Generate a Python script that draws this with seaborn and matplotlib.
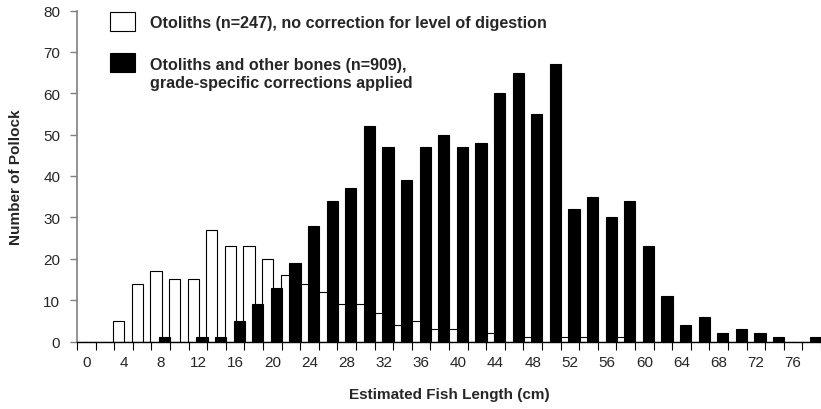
import numpy as np
import pandas as pd
import seaborn as sns
import matplotlib.pyplot as plt
from matplotlib.patches import Rectangle

# 2 cm length classes
lengths = list(range(0, 80, 2))
otoliths = [0, 0, 5, 14, 17, 15, 15, 27, 23, 23, 20, 16, 14, 12, 9, 9, 7, 4, 5, 3,
            3, 0, 2, 0, 1, 0, 1, 1, 0, 1, 0, 0, 0, 0, 0, 0, 0, 0, 0, 0]
all_bones = [0, 0, 0, 0, 1, 0, 1, 1, 5, 9, 13, 19, 28, 34, 37, 52, 47, 39, 47, 50,
             47, 48, 60, 65, 55, 67, 32, 35, 30, 34, 23, 11, 4, 6, 2, 3, 2, 1, 0, 1]
lab_oto = "Otoliths (n=247), no correction for level of digestion"
lab_all = "Otoliths and other bones (n=909),\ngrade-specific corrections applied"
tick_labels = [str(v) for v in range(0, 80, 4)]

df = pd.DataFrame({
    "length": lengths * 2,
    "count": otoliths + all_bones,
    "group": [lab_oto] * len(lengths) + [lab_all] * len(lengths),
})

sns.set_style("ticks")
plt.rcParams["font.family"] = ["Liberation Sans", "DejaVu Sans"]

W, H = 821, 410
fig = plt.figure(figsize=(W / 100, H / 100), dpi=100)
ax = fig.add_axes([77 / W, 67.5 / H, 744 / W, 331 / H])

sns.barplot(data=df, x="length", y="count", hue="group",
            hue_order=[lab_oto, lab_all], palette=["white", "black"],
            saturation=1, edgecolor="black", linewidth=0.8,
            width=1.0, dodge=True, legend=False, ax=ax)

# overlapping bars: white a bit left, black a bit right
for p in ax.containers[0]:
    p.set_x(p.get_x() - 0.05)
    p.set_width(0.6)
for p in ax.containers[1]:
    p.set_x(p.get_x() - 0.08)
    p.set_width(0.6)

ax.set_xlim(-0.5, len(lengths) - 0.5)
ax.set_ylim(0, 80)
ax.set_yticks(range(0, 81, 10))
ax.set_xticks(range(0, len(lengths), 2), tick_labels)
ax.set_xticks(np.arange(-0.5, len(lengths), 1), minor=True)
ax.tick_params(axis="x", which="major", length=0, pad=10, labelsize=11)
ax.tick_params(axis="x", which="minor", length=6, width=0.8, color="black")
ax.tick_params(axis="y", length=5, width=1, color="#808080", pad=7, labelsize=11)

sns.despine(ax=ax)
ax.spines["left"].set_color("#808080")
ax.spines["left"].set_linewidth(1.2)
ax.spines["bottom"].set_color("black")
ax.spines["bottom"].set_linewidth(1.0)
ax.spines["bottom"].set_zorder(5)

ax.set_xlabel("Estimated Fish Length (cm)", fontsize=11, fontweight="bold", labelpad=13)
ax.set_ylabel("Number of Pollock", fontsize=11, fontweight="bold", labelpad=15)

# legend drawn by hand (boxes are larger than the text)
for (top, face) in [(13.3, "white"), (54.3, "black")]:
    fig.add_artist(Rectangle((109.5 / W, 1 - (top + 19) / H), 25.5 / W, 19 / H,
                             facecolor=face, edgecolor="black", linewidth=0.8,
                             transform=fig.transFigure))
fig.text(150 / W, 1 - 28.3 / H, lab_oto, fontsize=11.6, fontweight="bold", va="baseline")
fig.text(150 / W, 1 - 58 / H, lab_all, fontsize=11.6, fontweight="bold", va="top",
         linespacing=1.22)

fig.savefig("out.png", dpi=100)
